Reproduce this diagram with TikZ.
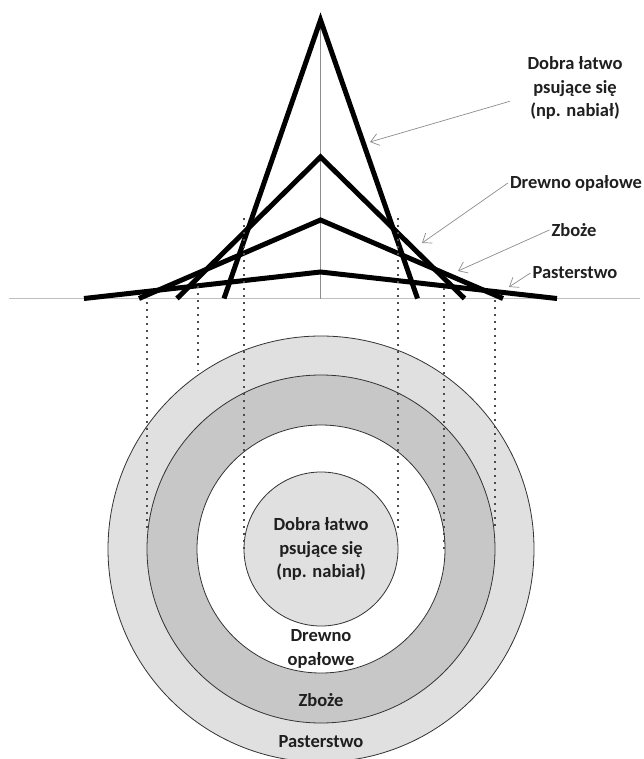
\documentclass[tikz,border=0pt]{standalone}
\usepackage{fontspec}
\setmainfont{Carlito}
\usetikzlibrary{arrows.meta}
\tikzset{
  curve/.style={line width=5pt, line join=miter},
  drop/.style={draw=black!70, line width=1.8pt, dash pattern=on 1.8pt off 5.2pt},
  lbl/.style={font=\bfseries\fontsize{18.5}{23.5}\selectfont, text=black!88, align=center, inner sep=2pt},
  pointer/.style={draw=black!45, line width=0.7pt, -{Straight Barb[length=8pt,width=12pt]}},
  ring/.style={circle, draw=black!80, line width=0.8pt, inner sep=0pt},
}

\begin{document}
\begin{tikzpicture}[x=1pt,y=-1pt]
  \useasboundingbox (0,0) rectangle (644,759);
  % rings
  \node[ring, fill=black!12, minimum size=426pt] (pastC) at (321,549) {};
  \node[ring, fill=black!22, minimum size=348pt] (zbozC) at (321,549) {};
  \node[ring, fill=white, minimum size=248pt] (drewC) at (321,549) {};
  \node[ring, fill=black!12, minimum size=154pt] (dobrC) at (321,549) {};
  \node[lbl] (dobrT) at (321,549) {Dobra łatwo\\psujące się\\(np. nabiał)};
  \node[lbl] (drewT) at (321,649) {Drewno\\opałowe};
  \node[lbl] (zbozT) at (321,700) {Zboże};
  \node[lbl] (pastT) at (321,742) {Pasterstwo};
  % axes
  \draw[black!25, line width=1.5pt] (9,298.5) -- (640,298.5);
  \draw[black!45, line width=0.6pt] (320.5,20) -- (320.5,298.5);
  % curves
  \foreach \l/\t/\r in {224/20/417.5, 177/157/464.5, 139/220/503, 84/272/557}
    \draw[curve] (\l,298.5) -- (320.5,\t) -- (\r,298.5);
  % drop lines
  \foreach \x/\a/\b in {147/302/530, 198/286/371, 244/218/553, 398/218/533, 444/288/553, 495/300/530}
    \draw[drop] (\x,\a) -- (\x,\b);
  % labels
  \node[lbl] (dobraL) at (575,88) {Dobra łatwo\\psujące się\\(np. nabiał)};
  \node[lbl] (drewL) at (576,183) {Drewno opałowe};
  \node[lbl] (zbozL) at (574,230) {Zboże};
  \node[lbl] (pastL) at (575,273) {Pasterstwo};
  \coordinate (dobraP) at (370,142);
  \coordinate (drewP) at (422,243);
  \coordinate (zbozP) at (458,271);
  \coordinate (pastP) at (509,287);
  \draw[pointer, shorten <=16pt] (dobraL.190) -- (dobraP);
  \draw[pointer] (drewL.west) -- (drewP);
  \draw[pointer] (zbozL.west) -- (zbozP);
  \draw[pointer] (pastL.west) -- (pastP);
\end{tikzpicture}
\end{document}
